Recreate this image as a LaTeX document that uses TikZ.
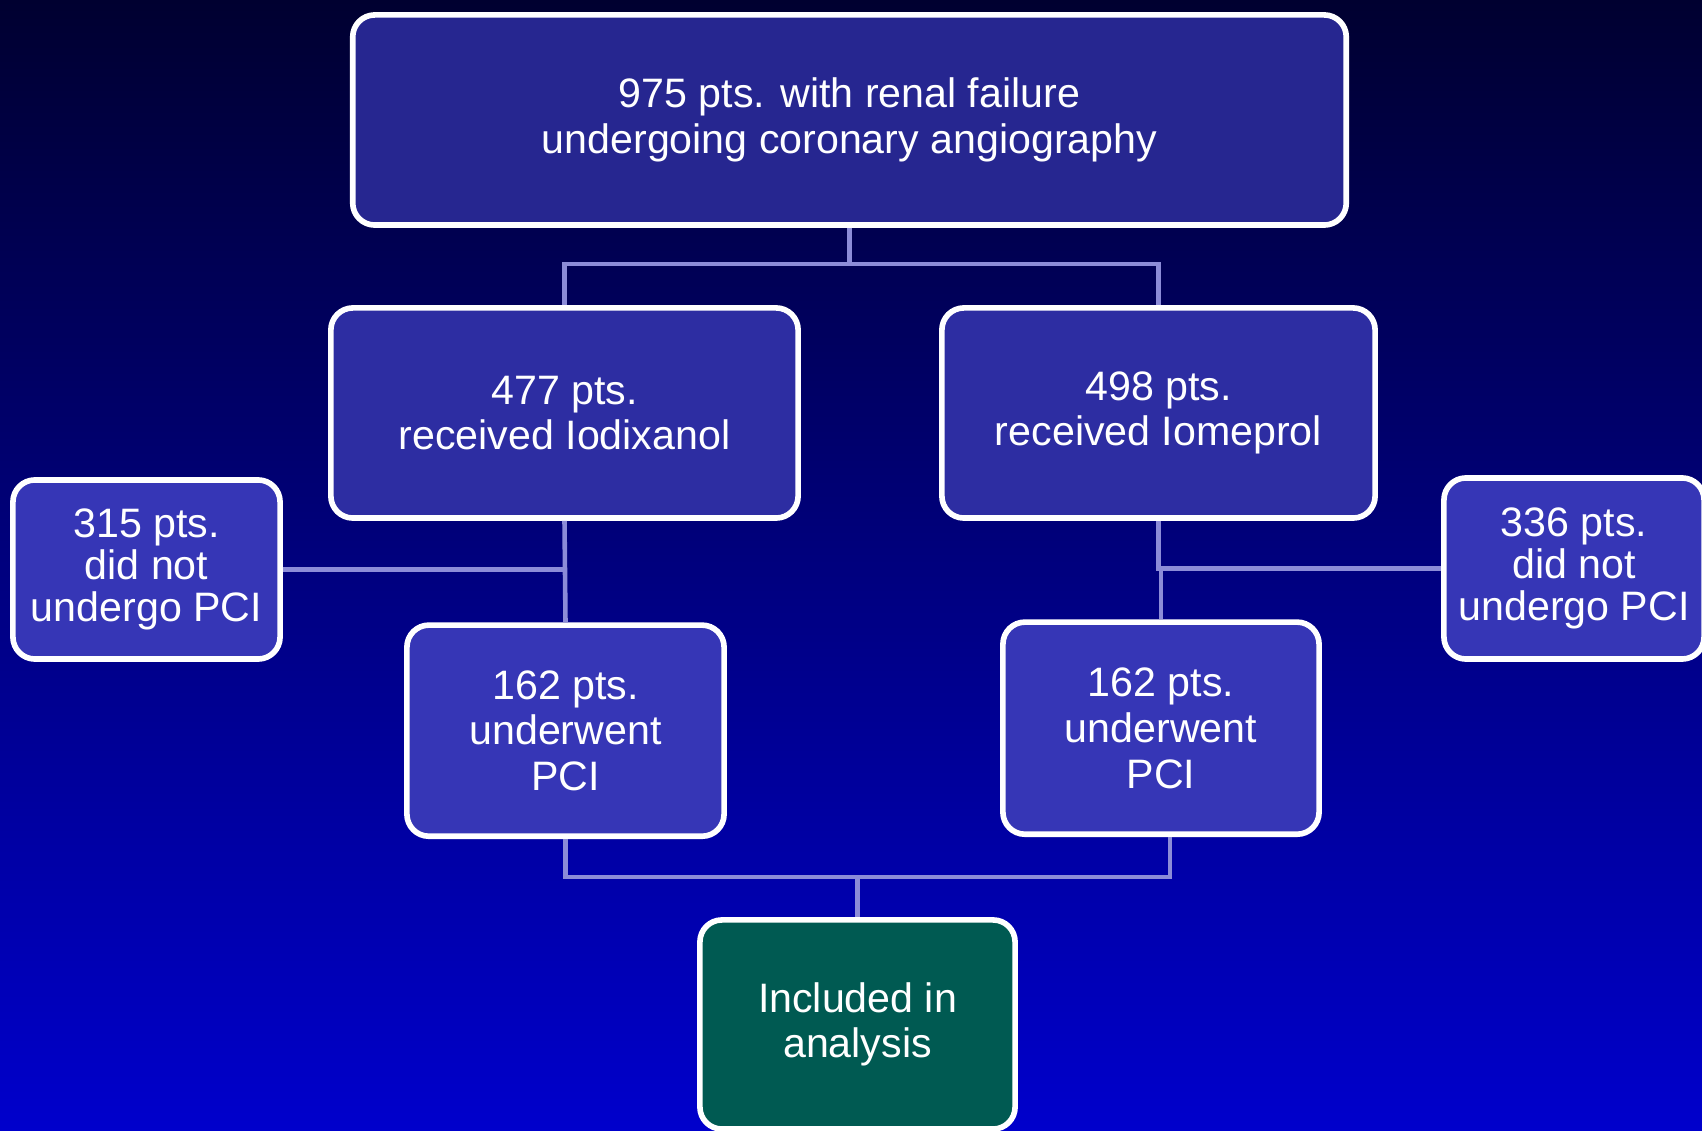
\documentclass[tikz,border=0pt]{standalone}
\usepackage{fontspec}
\setmainfont{Liberation Sans}
\usetikzlibrary{positioning}
\definecolor{bgtop}{HTML}{000030}
\definecolor{bgmid}{HTML}{0000A0}
\definecolor{bgbot}{HTML}{0000CC}
\definecolor{boxdark}{HTML}{262690}
\definecolor{boxmid}{HTML}{2D2DA2}
\definecolor{boxlight}{HTML}{3636B6}
\definecolor{boxgreen}{HTML}{005A52}
\definecolor{linkcol}{HTML}{8C8CD8}
\tikzset{
  box/.style={draw=white, line width=1.6pt, rounded corners=0.22cm, text=white,
    align=center, inner sep=0pt, font=\fontsize{11.7}{13}\selectfont},
  sidebox/.style={box, fill=boxlight, font=\fontsize{11.7}{11.9}\selectfont},
  link/.style={draw=linkcol, line width=1.3pt},
}
\begin{document}
\begin{tikzpicture}[x=0.01cm, y=-0.01cm]
\useasboundingbox (0,0) rectangle (1702,1131);
\fill[top color=bgtop, middle color=bgmid, bottom color=bgbot] (0,0) rectangle (1702,1131);
% boxes
\node[box, fill=boxdark, minimum width=9.93cm, minimum height=2.1cm] (all) at (849.5,120)
  {975 pts. with renal failure\\undergoing coronary angiography};
\node[box, fill=boxmid, minimum width=4.67cm, minimum height=2.1cm] (iod) at (564.5,413)
  {477 pts.\\received Iodixanol};
\node[box, fill=boxmid, minimum width=4.33cm, minimum height=2.1cm] (iom) at (1158.5,413)
  {498 pts.\\received Iomeprol};
\node[sidebox, minimum width=2.67cm, minimum height=1.79cm] (noL) at (146.5,569.5)
  {315 pts.\\did not\\undergo PCI};
\node[sidebox, minimum width=2.6cm, minimum height=1.81cm] (noR) at (1574,568.5)
  {336 pts.\\did not\\undergo PCI};
\node[box, fill=boxlight, minimum width=3.17cm, minimum height=2.11cm, node distance=3.175cm,
  below of=iod, xshift=0.01cm] (pciL) {162 pts.\\underwent\\PCI};
\node[box, fill=boxlight, minimum width=3.16cm, minimum height=2.12cm, node distance=3.15cm,
  below of=iom, xshift=0.025cm] (pciR) {162 pts.\\underwent\\PCI};
\node[box, fill=boxgreen, minimum width=3.15cm, minimum height=2.09cm] (incl) at (857.5,1024.5)
  {Included in\\analysis};
% connectors
\coordinate (split) at (849.5,264);
\coordinate (merge) at (857.5,877);
\draw[link] (all.south) -- (split);
\draw[link] (iod.north) |- (split) -| (iom.north);
\draw[link] (iod.south) -- (pciL.north);
\draw[link] (noL.east) -- (noL.east -| iod.south);
\draw[link] (iom.south) |- (noR.west);
\draw[link] (pciR.north) |- (noR.west);
\draw[link] (pciL.south) |- (merge) -| ([xshift=0.09cm]pciR.south);
\draw[link] (merge) -- (incl.north);
\end{tikzpicture}
\end{document}
